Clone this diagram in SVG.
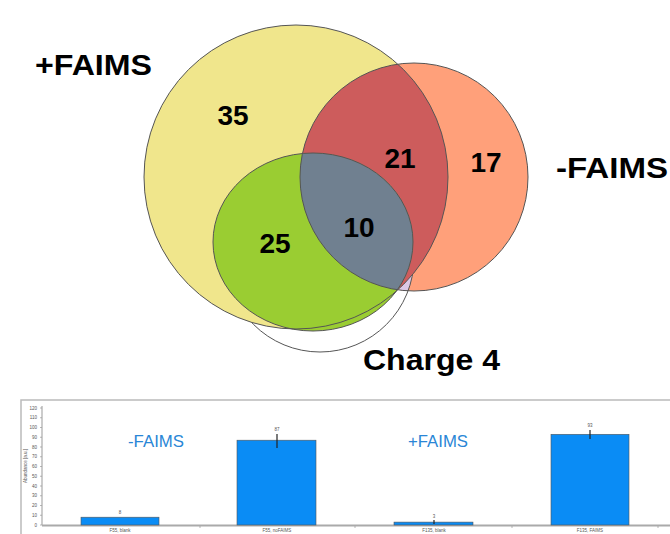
<svg xmlns="http://www.w3.org/2000/svg" width="670" height="534" viewBox="0 0 670 534">
<style>
.big{font-family:"Liberation Sans",Arial,sans-serif;font-weight:bold;fill:#000}
.num{font-family:"Liberation Sans",Arial,sans-serif;font-weight:bold;font-size:28px;fill:#000;text-anchor:middle}
.edge{fill:none;stroke:#555;stroke-width:1}
.tick{font-family:"Liberation Sans",Arial,sans-serif;font-size:4.5px;fill:#555;text-anchor:end}
.xl{font-family:"Liberation Sans",Arial,sans-serif;font-size:4.5px;fill:#555;text-anchor:middle}
.bar{fill:#0A8CF5;stroke:#555;stroke-width:0.6}
.blue{font-family:"Liberation Sans",Arial,sans-serif;font-size:17px;fill:#2A86D6}
.err{stroke:#222;stroke-width:1.2}
</style>
<defs>
<clipPath id="clipRed"><circle cx="414" cy="177" r="114"/></clipPath>
<clipPath id="clipYellow"><circle cx="296" cy="177" r="152"/></clipPath>
<mask id="c4mask" maskUnits="userSpaceOnUse" x="0" y="0" width="670" height="534">
<rect x="0" y="0" width="670" height="534" fill="#fff"/>
<circle cx="296" cy="177" r="152" fill="#000"/>
<ellipse cx="313" cy="242" rx="100" ry="89" fill="#000"/>
</mask>
</defs>
<rect width="670" height="534" fill="#fff"/>
<g id="venn">
<g id="set-charge4-base"><circle cx="320" cy="258" r="94" fill="#fff"/></g>
<g id="set-plus-faims"><circle cx="296" cy="177" r="152" fill="#F0E68C"/></g>
<g id="set-minus-faims"><circle cx="414" cy="177" r="114" fill="#FFA07A"/></g>
<g id="region-charge4-minus"><circle cx="320" cy="258" r="94" fill="#DCC8E6" clip-path="url(#clipRed)"/></g>
<g id="region-plus-minus"><circle cx="414" cy="177" r="114" fill="#CD5C5C" clip-path="url(#clipYellow)"/></g>
<g id="set-charge4"><ellipse cx="313" cy="242" rx="100" ry="89" fill="#9ACD32"/></g>
<g id="region-all"><ellipse cx="313" cy="242" rx="100" ry="89" fill="#708090" clip-path="url(#clipRed)"/></g>
<g id="outlines">
<circle class="edge" cx="320" cy="258" r="94" mask="url(#c4mask)"/>
<circle class="edge" cx="296" cy="177" r="152"/>
<circle class="edge" cx="414" cy="177" r="114"/>
<ellipse class="edge" cx="313" cy="242" rx="100" ry="89"/>
</g>
<g id="venn-labels">
<text class="big" x="35" y="75" font-size="30" textLength="117" lengthAdjust="spacingAndGlyphs">+FAIMS</text>
<text class="big" x="556" y="178" font-size="30" textLength="112" lengthAdjust="spacingAndGlyphs">-FAIMS</text>
<text class="big" x="363" y="370" font-size="30" textLength="137" lengthAdjust="spacingAndGlyphs">Charge 4</text>
<text class="num" x="233" y="125">35</text>
<text class="num" x="400" y="168">21</text>
<text class="num" x="486" y="172">17</text>
<text class="num" x="359" y="237">10</text>
<text class="num" x="275" y="253">25</text>
</g>
</g>
<g id="connectors"/>
<g id="chart">
<rect x="21" y="400" width="660" height="150" fill="none" stroke="#bbb" stroke-width="1.5"/>
<line x1="42" y1="406" x2="42" y2="525" stroke="#999" stroke-width="1"/>
<line x1="42" y1="525.5" x2="670" y2="525.5" stroke="#aaa" stroke-width="2"/>
<g stroke="#999" stroke-width="0.7">
<line x1="40" y1="525" x2="42" y2="525"/><line x1="40" y1="515.25" x2="42" y2="515.25"/><line x1="40" y1="505.5" x2="42" y2="505.5"/><line x1="40" y1="495.75" x2="42" y2="495.75"/><line x1="40" y1="486" x2="42" y2="486"/><line x1="40" y1="476.25" x2="42" y2="476.25"/><line x1="40" y1="466.5" x2="42" y2="466.5"/><line x1="40" y1="456.75" x2="42" y2="456.75"/><line x1="40" y1="447" x2="42" y2="447"/><line x1="40" y1="437.25" x2="42" y2="437.25"/><line x1="40" y1="427.5" x2="42" y2="427.5"/><line x1="40" y1="417.75" x2="42" y2="417.75"/><line x1="40" y1="408" x2="42" y2="408"/>
<line x1="200" y1="526" x2="200" y2="528"/><line x1="355" y1="526" x2="355" y2="528"/><line x1="512" y1="526" x2="512" y2="528"/><line x1="658" y1="526" x2="658" y2="528"/>
</g>
<g class="tick">
<text x="37" y="526.5">0</text><text x="37" y="516.8">10</text><text x="37" y="507">20</text><text x="37" y="497.3">30</text><text x="37" y="487.5">40</text><text x="37" y="477.8">50</text><text x="37" y="468">60</text><text x="37" y="458.3">70</text><text x="37" y="448.5">80</text><text x="37" y="438.8">90</text><text x="37" y="429">100</text><text x="37" y="419.3">110</text><text x="37" y="409.5">120</text>
</g>
<text class="xl" transform="translate(27,466) rotate(-90)">Abundance [a.u.]</text>
<rect class="bar" x="81" y="517.2" width="78" height="7.8"/>
<rect class="bar" x="237" y="440.2" width="79" height="84.8"/>
<rect class="bar" x="394" y="522.1" width="79" height="2.9"/>
<rect class="bar" x="551" y="434.3" width="78" height="90.7"/>
<line class="err" x1="277" y1="434" x2="277" y2="448"/>
<line class="err" x1="434" y1="520" x2="434" y2="524"/>
<line class="err" x1="590" y1="430" x2="590" y2="439"/>
<g class="xl">
<text x="120" y="514">8</text><text x="277" y="431">87</text><text x="434" y="518">3</text><text x="590" y="427">93</text>
<text x="120" y="531.5">F55, blank</text><text x="277" y="531.5">F55, noFAIMS</text><text x="434" y="531.5">F135, blank</text><text x="590" y="531.5">F135, FAIMS</text>
</g>
<text class="blue" x="128" y="447" textLength="56" lengthAdjust="spacingAndGlyphs">-FAIMS</text>
<text class="blue" x="408" y="447" textLength="60" lengthAdjust="spacingAndGlyphs">+FAIMS</text>
</g>
</svg>
